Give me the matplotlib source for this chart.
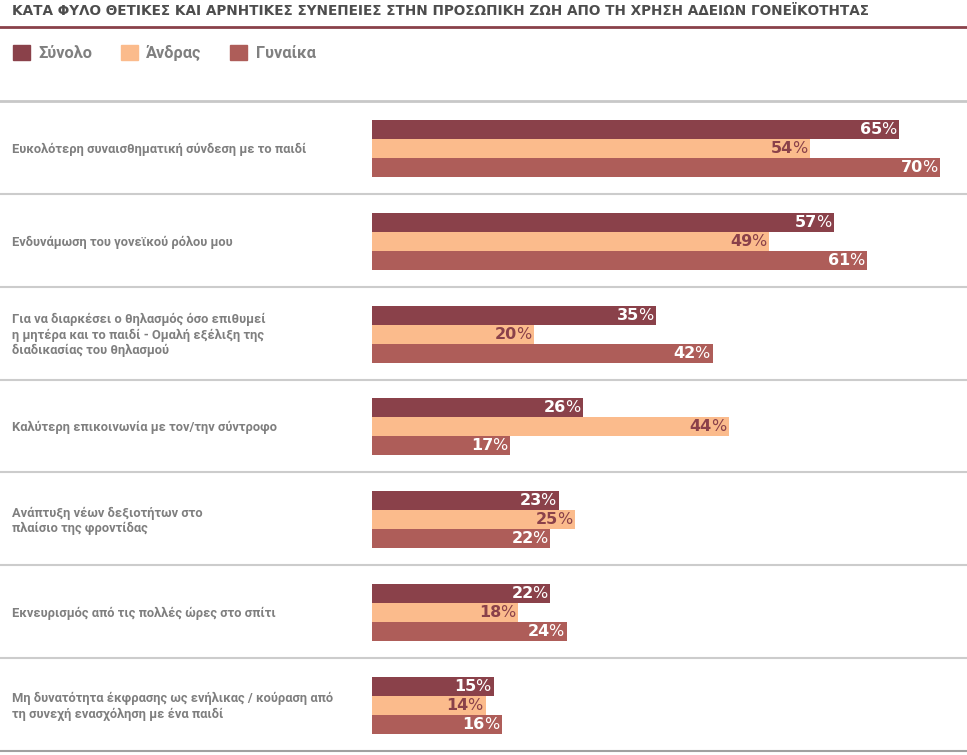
import numpy as np
import matplotlib.pyplot as plt
from matplotlib.patches import Patch

plt.rcParams['font.family'] = ['Roboto', 'DejaVu Sans']

categories = [
    'Ευκολότερη συναισθηματική σύνδεση με το παιδί',
    'Ενδυνάμωση του γονεϊκού ρόλου μου',
    'Για να διαρκέσει ο θηλασμός όσο επιθυμεί\nη μητέρα και το παιδί - Ομαλή εξέλιξη της\nδιαδικασίας του θηλασμού',
    'Καλύτερη επικοινωνία με τον/την σύντροφο',
    'Ανάπτυξη νέων δεξιοτήτων στο\nπλαίσιο της φροντίδας',
    'Εκνευρισμός από τις πολλές ώρες στο σπίτι',
    'Μη δυνατότητα έκφρασης ως ενήλικας / κούραση από\nτη συνεχή ενασχόληση με ένα παιδί',
]
series_names = ['Σύνολο', 'Άνδρας', 'Γυναίκα']
total = [65, 57, 35, 26, 23, 22, 15]
men = [54, 49, 20, 44, 25, 18, 14]
women = [70, 61, 42, 17, 22, 24, 16]

colors = ['#8a414a', '#fbbb8c', '#ae5d59']
label_colors = ['white', '#8a414a', 'white']
title = 'ΚΑΤΑ ΦΥΛΟ ΘΕΤΙΚΕΣ ΚΑΙ ΑΡΝΗΤΙΚΕΣ ΣΥΝΕΠΕΙΕΣ ΣΤΗΝ ΠΡΟΣΩΠΙΚΗ ΖΩΗ ΑΠΟ ΤΗ ΧΡΗΣΗ ΑΔΕΙΩΝ ΓΟΝΕΪΚΟΤΗΤΑΣ'

W, H = 967, 755
fig = plt.figure(figsize=(W / 100, H / 100), dpi=100)

# axes covers the whole width; x=0 sits at pixel 372
px_per_pct = 8.11
x0 = 372
top, bottom = 101, 751
ax = fig.add_axes([0, 1 - bottom / H, 1, (bottom - top) / H])
ax.set_xlim(-x0 / px_per_pct, (W - x0) / px_per_pct)
n = len(categories)
ax.set_ylim(n - 0.5, -0.5)
ax.axis('off')

y = np.arange(n)
h = 0.205
for k, vals in enumerate([total, men, women]):
    pos = y + (k - 1) * h + 0.01
    ax.barh(pos, vals, height=h, color=colors[k], left=0)

# value labels: bold number + lighter % sign, right aligned at bar end
fig.canvas.draw()
renderer = fig.canvas.get_renderer()
for k, vals in enumerate([total, men, women]):
    pos = y + (k - 1) * h + 0.01
    for p, v in zip(pos, vals):
        t = ax.annotate('%', (v, p), xytext=(-2, 0), textcoords='offset points',
                        ha='right', va='center', fontsize=11.5, color=label_colors[k],
                        family='DejaVu Sans')
        wpx = t.get_window_extent(renderer).width * 72 / 100
        ax.annotate(str(v), (v, p), xytext=(-2 - wpx + 0.8, 0), textcoords='offset points',
                    ha='right', va='center', fontsize=11.5, fontweight='bold',
                    color=label_colors[k], family='DejaVu Sans')

for i, c in enumerate(categories):
    ax.text(-x0 / px_per_pct + 12 / px_per_pct, i + 0.02, c, ha='left', va='center',
            fontsize=9.3, fontweight='bold', color='#7f7f7f', linespacing=1.2)

for i in range(n - 1):
    ax.axhline(i + 0.5, color='#cccccc', lw=1.5)
ax.axhline(-0.5, color='#c8c8c8', lw=2, clip_on=False)
ax.axhline(n - 0.5, color='#a0a0a0', lw=1.5, clip_on=False)

fig.text(12 / W, 1 - 11 / H, title, ha='left', va='center', fontsize=9.8,
         fontweight='bold', color='#4d4d4d', family='DejaVu Sans')
fig.add_artist(plt.Line2D([0, 1], [1 - 27 / H, 1 - 27 / H], color='#8a414a', lw=2))

handles = [Patch(color=c, label=s) for c, s in zip(colors, series_names)]
fig.legend(handles=handles, loc='center left', bbox_to_anchor=(5 / W, 1 - 53 / H),
           ncol=3, frameon=False, handlelength=1.04, handleheight=1.04,
           columnspacing=1.75, handletextpad=0.5, prop={'size': 11.8, 'weight': 'bold'},
           labelcolor='#808080', borderaxespad=0, borderpad=0.5)

fig.savefig('out.png', dpi=100)
